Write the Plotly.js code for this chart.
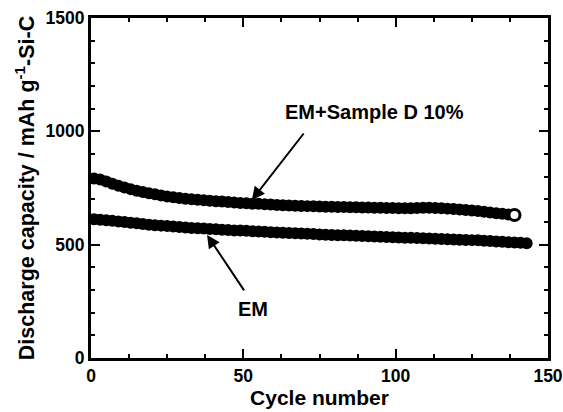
<!DOCTYPE html>
<html>
<head>
<meta charset="utf-8">
<script src="https://cdn.plot.ly/plotly-3.0.1.min.js"></script>
<style>html,body{margin:0;padding:0;background:#fff;}#chart{width:563px;height:412px;}</style>
</head>
<body>
<div id="chart"></div>
<script>
// Cycle numbers (every 2nd cycle)
const dCycles = [1,3,5,7,9,11,13,15,17,19,21,23,25,27,29,31,33,35,37,39,41,43,45,47,49,51,53,55,57,59,61,63,65,67,69,71,73,75,77,79,81,83,85,87,89,91,93,95,97,99,101,103,105,107,109,111,113,115,117,119,121,123,125,127,129,131,133,135,137,139];
const dCapacity = [792,787,779,769,760,752,745,738,732,727,722,717,713,709,706,703,700,698,696,694,692,690,688,686,684,683,681,680,678,677,675,674,673,672,671,670,669,668,667,667,666,666,665,665,664,664,663,663,662,662,661,661,661,662,663,663,662,661,659,657,655,653,651,648,645,642,639,636,633,631];
const emCycles = [1,3,5,7,9,11,13,15,17,19,21,23,25,27,29,31,33,35,37,39,41,43,45,47,49,51,53,55,57,59,61,63,65,67,69,71,73,75,77,79,81,83,85,87,89,91,93,95,97,99,101,103,105,107,109,111,113,115,117,119,121,123,125,127,129,131,133,135,137,139,141,143];
const emCapacity = [612,610,608,605,602,600,597,594,591,588,586,584,582,580,578,576,574,572,571,569,568,566,565,563,562,561,559,558,557,555,554,553,551,550,549,548,547,545,544,543,542,541,540,539,538,537,536,535,534,533,532,531,530,529,528,527,526,525,524,523,522,521,520,519,517,516,514,513,511,510,508,506];
const xTicks = [0,50,100,150];
const yTicks = [0,500,1000,1500];
const seriesNames = ["EM+Sample D 10%", "EM"];

const FONT = "Liberation Sans, Arial, Helvetica, sans-serif";
const last = dCycles.length - 1;

const traces = [
  {x: emCycles, y: emCapacity, name: seriesNames[1], mode: "markers", type: "scatter",
   marker: {color: "#000", size: 12, line: {width: 0}}},
  {x: dCycles.slice(0, last), y: dCapacity.slice(0, last), name: seriesNames[0], mode: "markers", type: "scatter",
   marker: {color: "#000", size: 12, line: {width: 0}}},
  {x: [dCycles[last]], y: [dCapacity[last]], name: seriesNames[0], mode: "markers", type: "scatter",
   marker: {color: "#fff", size: 11, line: {color: "#000", width: 3}}}
];

const axisCommon = {
  showline: true, linecolor: "#000", linewidth: 3, mirror: "ticks",
  ticks: "inside", ticklen: 9, tickwidth: 2, tickcolor: "#000",
  showgrid: false, zeroline: false,
  tickfont: {family: FONT, size: 17.5, color: "#000"}
};

const layout = {
  width: 563, height: 412,
  margin: {l: 91, r: 15, t: 18, b: 54},
  paper_bgcolor: "#fff", plot_bgcolor: "#fff",
  showlegend: false,
  font: {family: FONT, color: "#000"},
  xaxis: Object.assign({}, axisCommon, {
    range: [0, 150], tickvals: xTicks, ticktext: xTicks.map(v => "<b>" + v + "</b>"),
    minor: {dtick: 12.5, ticks: "inside", ticklen: 4, tickwidth: 2, tickcolor: "#000", showgrid: false},
    title: {text: "<b>Cycle number</b>", font: {family: FONT, size: 21, color: "#000"}, standoff: 6}
  }),
  yaxis: Object.assign({}, axisCommon, {
    range: [0, 1500], tickvals: yTicks, ticktext: yTicks.map(v => "<b>" + v + "</b>"),
    minor: {dtick: 100, ticks: "inside", ticklen: 4, tickwidth: 2, tickcolor: "#000", showgrid: false},
    title: {text: "<b>Discharge capacity / mAh g<sup>-1</sup>-Si-C</b>", font: {family: FONT, size: 21.5, color: "#000"}, standoff: 6}
  }),
  annotations: [
    {x: 93.2, y: 1085, xref: "x", yref: "y", text: "<b>" + seriesNames[0] + "</b>", showarrow: false,
     font: {family: FONT, size: 20, color: "#000"}},
    {x: 53.2, y: 216, xref: "x", yref: "y", text: "<b>" + seriesNames[1] + "</b>", showarrow: false,
     font: {family: FONT, size: 20, color: "#000"}},
    {x: 52.8, y: 697, xref: "x", yref: "y", text: "", showarrow: true, arrowhead: 2, arrowsize: 1.3,
     arrowwidth: 2, arrowcolor: "#000", ax: 53, ay: -68},
    {x: 38.1, y: 543, xref: "x", yref: "y", text: "", showarrow: true, arrowhead: 2, arrowsize: 1.3,
     arrowwidth: 2, arrowcolor: "#000", ax: 38, ay: 57}
  ]
};

Plotly.newPlot("chart", traces, layout, {displayModeBar: false, staticPlot: true});
</script>
</body>
</html>
